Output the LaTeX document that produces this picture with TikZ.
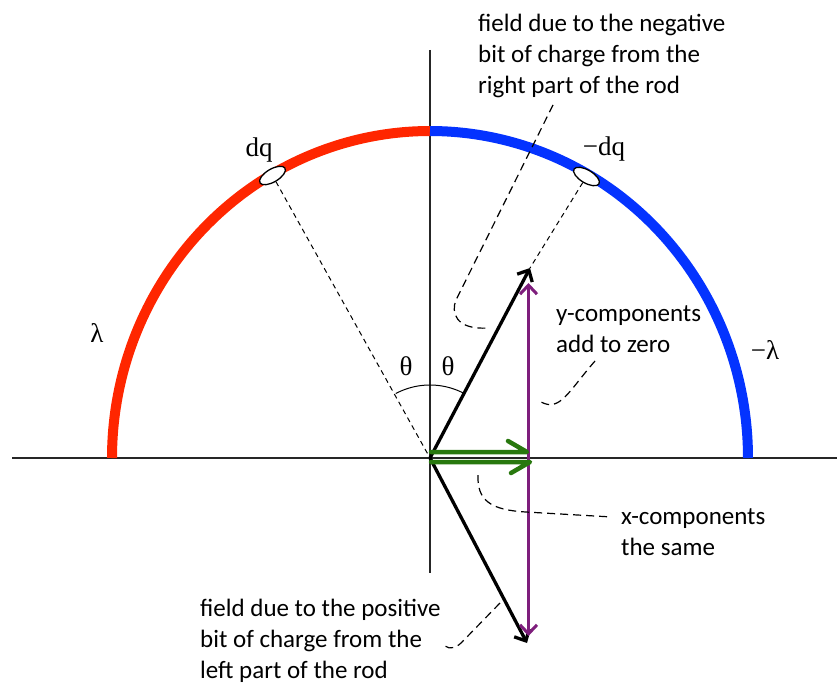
\documentclass[tikz,border=0pt]{standalone}
\usepackage{fontspec}
\setmainfont{Carlito}
\newfontfamily\symfont{Liberation Serif}
\usetikzlibrary{arrows.meta,shapes.geometric}
\definecolor{rodred}{RGB}{255,38,0}
\definecolor{rodblue}{RGB}{4,51,255}
\definecolor{vecpurple}{RGB}{126,30,124}
\definecolor{vecgreen}{RGB}{40,120,14}
\begin{document}
\begin{tikzpicture}[x=1pt,y=-1pt,
  axis/.style={line width=1.5pt, black!85},
  rod/.style={line width=10pt},
  guide/.style={line width=1pt, dash pattern=on 5pt off 4pt},
  callout/.style={line width=1.2pt, dash pattern=on 8pt off 5pt},
  vec/.style={line width=3.3pt, -{Straight Barb[length=9pt,width=17pt]}},
  pvec/.style={line width=3pt, vecpurple, {Straight Barb[length=9pt,width=17pt]}-{Straight Barb[length=9pt,width=17pt]}},
  gvec/.style={line width=4.5pt, vecgreen, line join=round, line cap=round},
  charge/.style={draw, ellipse, fill=white, line width=1.3pt, minimum width=29pt, minimum height=13pt, inner sep=0pt},
  ctext/.style={font=\fontsize{25}{31}\selectfont, align=left, inner sep=0pt, anchor=north west},
  stext/.style={font=\symfont\fontsize{27}{30}\selectfont, inner sep=0pt, anchor=base}
]
\useasboundingbox (0,0) rectangle (837,685);

% axes
\coordinate (O) at (430,458);
\coordinate (axL) at (12,458);
\coordinate (axR) at (837,458);
\coordinate (axT) at (430,50);
\coordinate (axB) at (430,573);
\draw[axis] (axL) -- (axR);
\draw[axis] (axT) -- (axB);

% charged semicircular rod
\draw[rod, rodred] plot[domain=180:270, samples=90] ({430+318*cos(\x)},{458+327*sin(\x)});
\draw[rod, rodblue] plot[domain=270:360, samples=90] ({430+318*cos(\x)},{458+327*sin(\x)});

% charge elements
\node[charge, rotate=30.5] (dq) at (272.5,175.5) {};
\node[charge, rotate=-30.5] (mdq) at (586.5,176.5) {};
\node[stext] (dqlab) at (259,156) {dq};
\node[stext] (mdqlab) at (604,155) {−dq};
\node[stext] (lam) at (97,342) {λ};
\node[stext] (mlam) at (765,359) {−λ};

% field vectors
\coordinate (Eup) at (530,268);
\coordinate (Edn) at (527,643);
\coordinate (Ptop) at (528.5,283);
\coordinate (Pbot) at (528.5,636);

\draw[guide] (dq) -- (O);
\draw[guide] (mdq) -- (Eup);

\draw[vec] (O) -- (Eup);
\draw[vec] (O) -- (Edn);
\draw[pvec] (Ptop) -- (Pbot);

% green x-component (double arrow)
\coordinate (g1s) at (431,452);
\coordinate (g1e) at (527,452);
\coordinate (g1b) at (508,441);
\coordinate (g2s) at (431,462);
\coordinate (g2e) at (530,462);
\coordinate (g2b) at (511,473);
\draw[gvec] (g1s) -- (g1e) -- (g1b);
\draw[gvec] (g2s) -- (g2e) -- (g2b);

% theta arc and labels
\draw[line width=1pt] plot[domain=242:298, samples=40] ({430+73*cos(\x)},{458+73*sin(\x)});
\node[stext] (thL) at (406,375) {θ};
\node[stext] (thR) at (448,375) {θ};

% callouts
\node[ctext] (negtxt) at (478,10) {\strut field due to the negative\\bit of charge from the\\right part of the rod};
\node[ctext] (ytxt) at (556,300) {\strut y-components\\add to zero};
\node[ctext] (xtxt) at (621,503) {\strut x-components\\the same};
\node[ctext] (postxt) at (200,595) {\strut field due to the positive\\bit of charge from the\\left part of the rod};

\coordinate (c1a) at (553,105);
\coordinate (c1b) at (456,300);
\coordinate (c1c) at (488,328);
\draw[callout] (c1a) -- (c1b) .. controls (451,312) and (455,330) .. (c1c);

\coordinate (c2a) at (595,361);
\coordinate (c2b) at (541,402);
\draw[callout] (c2a) .. controls (568,392) and (560,412) .. (c2b);

\coordinate (c3a) at (478,475);
\coordinate (c3b) at (526,512);
\coordinate (c3c) at (612,517);
\draw[callout] (c3a) .. controls (477,500) and (490,510) .. (c3b) -- (c3c);

\coordinate (c4a) at (500,603);
\coordinate (c4b) at (464,640);
\coordinate (c4c) at (445,646);
\draw[callout] (c4a) -- (c4b) .. controls (457,648) and (450,650) .. (c4c);
\end{tikzpicture}
\end{document}
